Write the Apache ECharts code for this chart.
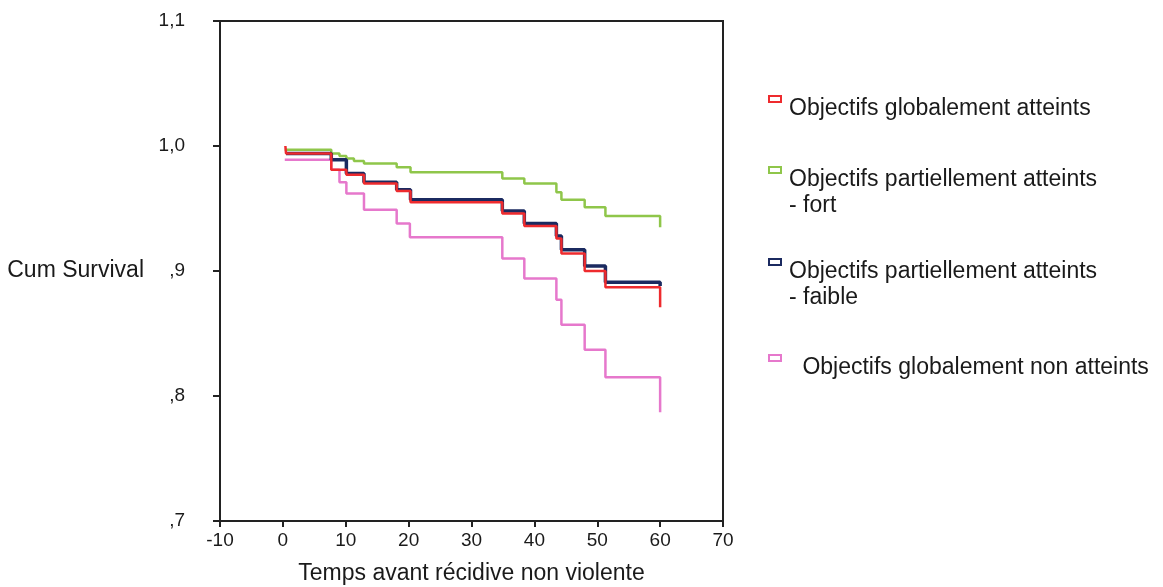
<!DOCTYPE html>
<html>
<head>
<meta charset="utf-8">
<script src="https://cdn.jsdelivr.net/npm/echarts@6/dist/echarts.min.js"></script>
<style>
  html, body { margin: 0; padding: 0; background: #fff; }
  #main { width: 1163px; height: 587px; }
</style>
</head>
<body>
<div id="main"></div>
<script>
// courbes de survie (temps, survie cumulée)
const atteints = [[0.4, 1.0], [0.5, 0.994], [7.7, 0.981], [10.1, 0.977], [12.9, 0.970], [18.1, 0.964], [20.3, 0.955],
  [34.9, 0.946], [38.4, 0.936], [43.5, 0.926], [44.3, 0.914], [48.0, 0.900], [51.3, 0.887], [60, 0.887], [60, 0.871]]
const partielFort = [[0.3, 0.997], [7.7, 0.994], [9.0, 0.992], [10.1, 0.990], [11.3, 0.988], [12.9, 0.986], [18.1, 0.983],
  [20.3, 0.979], [34.9, 0.974], [38.4, 0.970], [43.5, 0.963], [44.3, 0.957], [48.0, 0.951], [51.3, 0.944], [60, 0.944], [60, 0.935]]
const partielFaible = [[0.5, 0.994], [7.7, 0.989], [10.1, 0.978], [12.9, 0.971], [18.1, 0.965], [20.3, 0.957],
  [34.9, 0.948], [38.4, 0.938], [43.5, 0.928], [44.3, 0.917], [48.0, 0.904], [51.3, 0.891], [60, 0.891], [60, 0.888]]
const nonAtteints = [[0.3, 0.989], [7.7, 0.981], [9.0, 0.971], [10.1, 0.962], [12.9, 0.949], [18.1, 0.938], [20.2, 0.927],
  [34.9, 0.910], [38.4, 0.894], [43.5, 0.877], [44.3, 0.857], [48.0, 0.837], [51.3, 0.815], [60, 0.815], [60, 0.787]]

const groupNames = ['Objectifs globalement atteints', 'Objectifs partiellement atteints\n- fort',
  'Objectifs partiellement atteints\n- faible', ' Objectifs globalement non atteints']
const groupColors = ['#ee2b2e', '#8fc64a', '#1b2a60', '#e678cc']

const font = '"Liberation Sans", Arial, sans-serif'
const myChart = echarts.init(document.getElementById('main'))

// légende dessinée à la main (petits rectangles vides + texte)
const legendTop = [95, 166, 258, 354]
const legendX = [789, 789, 789, 796]
let legendGraphics = []
groupNames.forEach((name, i) => {
  legendGraphics.push({
    type: 'rect', left: 768, top: legendTop[i],
    shape: { width: 12, height: 6 },
    style: { fill: '#fff', stroke: groupColors[i], lineWidth: 2 }
  })
  legendGraphics.push({
    type: 'text', x: legendX[i], y: legendTop[i] + 1,
    style: { text: name, font: '23px ' + font, fill: '#1a1a1a', lineHeight: 26, verticalAlign: 'top' }
  })
})

function makeSeries (name, data, color, width, z) {
  return {
    name: name, type: 'line', step: 'end', data: data,
    showSymbol: false, symbol: 'none', z: z,
    lineStyle: { color: color, width: width },
    itemStyle: { color: color },
    animation: false
  }
}

myChart.setOption({
  animation: false,
  grid: {
    left: 220, top: 21, width: 503, height: 500, outerBoundsMode: 'none',
    show: true, borderColor: '#222', borderWidth: 2
  },
  xAxis: {
    type: 'value', min: -10, max: 70, interval: 10,
    name: 'Temps avant récidive non violente', nameLocation: 'middle', nameGap: 41,
    nameTextStyle: { fontFamily: font, fontSize: 23, color: '#1a1a1a' },
    axisLine: { onZero: false, lineStyle: { color: '#222', width: 2 } },
    axisTick: { show: true, inside: false, length: 6, lineStyle: { color: '#222', width: 2 } },
    axisLabel: { fontFamily: font, fontSize: 19, color: '#1a1a1a', margin: 10 },
    splitLine: { show: false }
  },
  yAxis: {
    type: 'value', min: 0.7, max: 1.1, interval: 0.1,
    name: 'Cum Survival', nameLocation: 'middle', nameRotate: 0, nameGap: 76,
    nameTextStyle: { fontFamily: font, fontSize: 23, color: '#1a1a1a' },
    axisLine: { show: true, onZero: false, lineStyle: { color: '#222', width: 2 } },
    axisTick: { show: true, inside: false, length: 7, lineStyle: { color: '#222', width: 2 } },
    axisLabel: {
      fontFamily: font, fontSize: 19, color: '#1a1a1a', margin: 35,
      formatter: function (v) {
        if (v >= 0.999) return v.toFixed(1).replace('.', ',')
        return ',' + Math.round(v * 10)
      }
    },
    splitLine: { show: false }
  },
  series: [
    makeSeries(groupNames[1], partielFort, groupColors[1], 2.5, 2),
    makeSeries(groupNames[3], nonAtteints, groupColors[3], 2.5, 2),
    makeSeries(groupNames[2], partielFaible, groupColors[2], 3.5, 3),
    makeSeries(groupNames[0], atteints, groupColors[0], 2.5, 4)
  ],
  graphic: legendGraphics
})
window.addEventListener('resize', myChart.resize)
</script>
</body>
</html>
